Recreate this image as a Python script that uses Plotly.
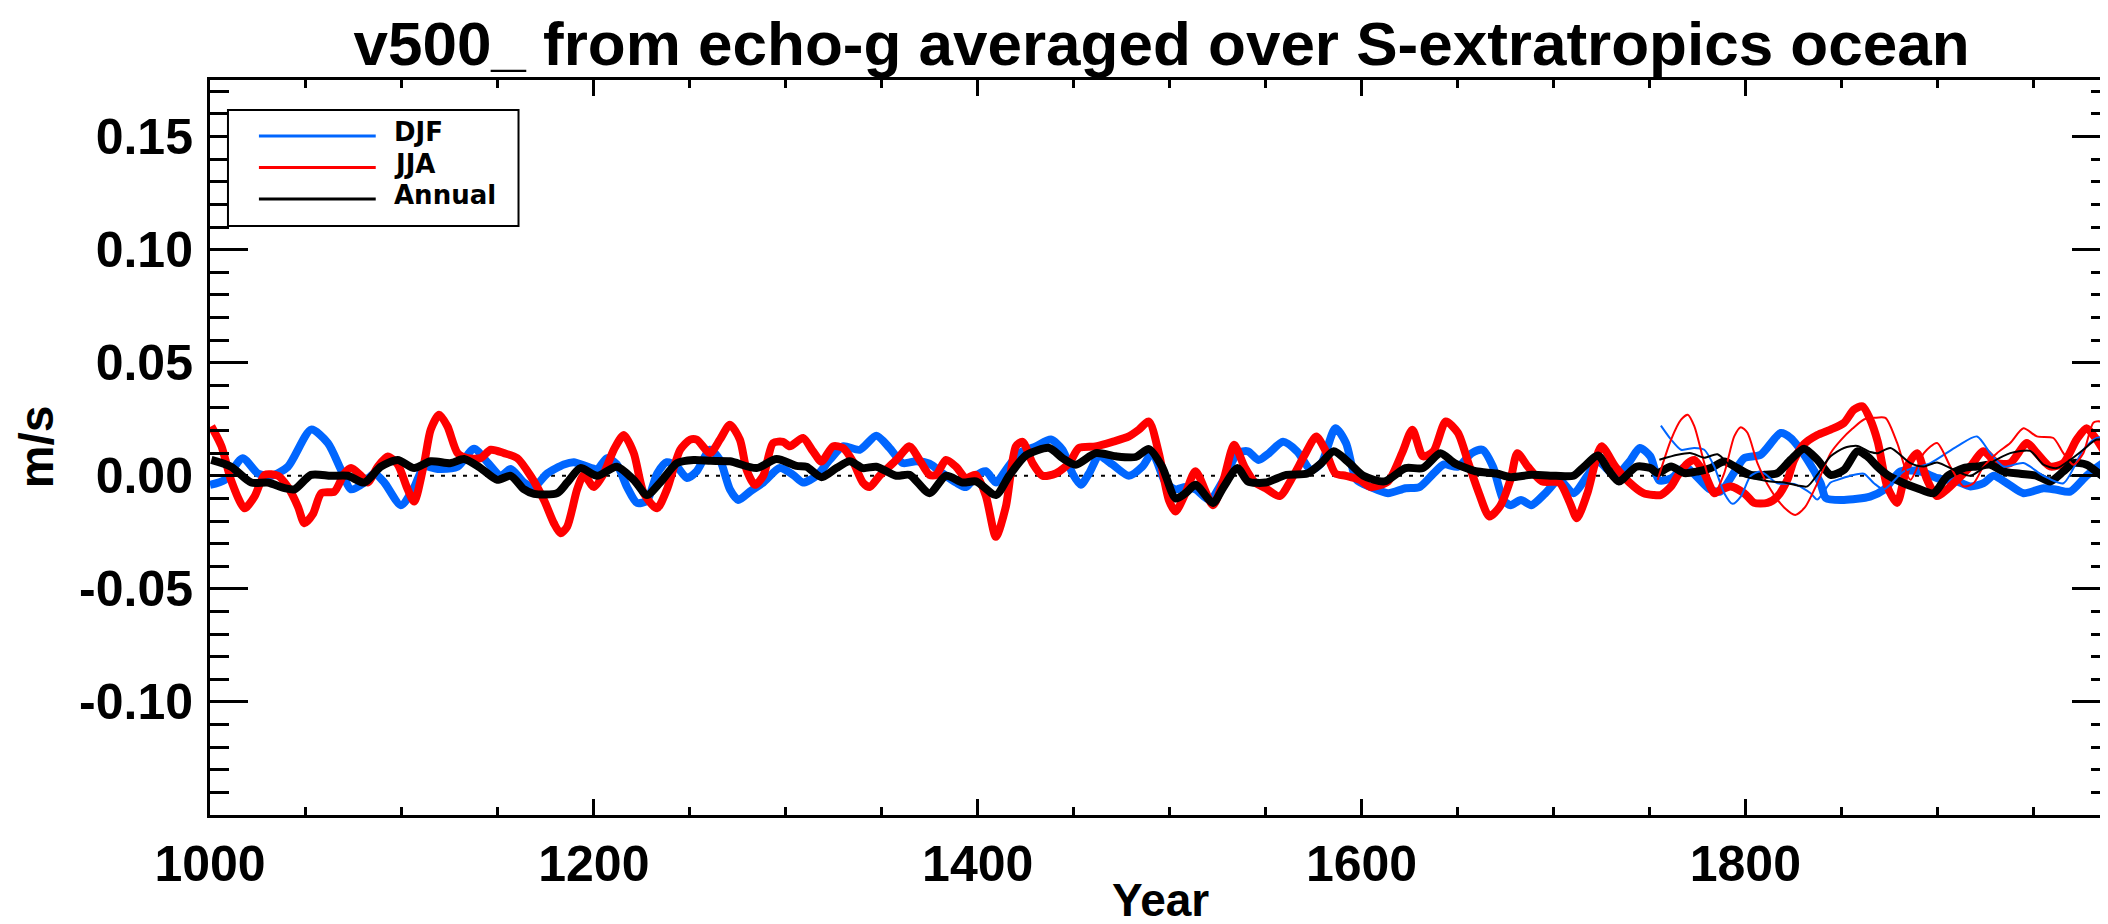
import plotly.graph_objects as go

# ---------------- data ----------------
djf_years = [1000, 1007.7, 1017, 1025, 1032, 1040.6, 1052.7, 1061.4, 1068.3, 1073.5, 1080.4, 1085.6, 1090.8,
             1099.5, 1106.4, 1111.6, 1118.5, 1129, 1137.6, 1144.5, 1151.5, 1156.7, 1163.6, 1168.8, 1175.7,
             1184.4, 1189.6, 1201.7, 1206.9, 1212, 1217.3, 1222.5, 1227.7, 1233, 1238, 1243.3, 1248.5,
             1253.6, 1260.5, 1265.7, 1270.9, 1275.3, 1281.3, 1288.3, 1296.9, 1303.8, 1309, 1316, 1322.9,
             1329.8, 1338.5, 1347.2, 1354.1, 1361, 1368, 1374.9, 1381.8, 1388.7, 1393.9, 1399.1, 1404.3,
             1409.5, 1414.7, 1421.7, 1430.3, 1438.1, 1444.2, 1449.4, 1453.7, 1458, 1463.2, 1470.2, 1478.8,
             1485.8, 1491, 1497.9, 1503.1, 1508.3, 1513.5, 1520.8, 1528.1, 1535.4, 1540.8, 1546.3, 1551.8,
             1559.1, 1566.4, 1573.7, 1579.1, 1586.4, 1591.9, 1597.4, 1604.7, 1613.8, 1622.9, 1630.2, 1637.5,
             1643, 1650.2, 1657.5, 1663, 1668.5, 1673.9, 1677.6, 1683.1, 1688.5, 1695.8, 1703.1, 1710.4,
             1717.7, 1723.2, 1732.3, 1739.6, 1745, 1750.5, 1755, 1761.5, 1768.7, 1774.2, 1781.5, 1787,
             1795, 1799.4, 1808, 1818.4, 1823.6, 1832.3, 1839.2, 1842, 1851.4, 1865, 1872.2, 1880.8,
             1891.2, 1899.9, 1910.3, 1917.2, 1924.1, 1929.3, 1936.3, 1944.9, 1955.3, 1962.2, 1969.2,
             1977.8, 1986.5, 1990]
djf_values = [-0.004, -0.0018, 0.0078, 0.001, 0.0, 0.004, 0.0204, 0.0145, 0.0026, -0.006, -0.003, 0.001, -0.003,
              -0.013, -0.005, 0.004, 0.003, 0.004, 0.012, 0.006, 0.0, 0.003, -0.003, -0.005, 0.001,
              0.005, 0.006, 0.003, 0.0078, 0.005, -0.005, -0.012, -0.011, 0.001, 0.006, 0.004, -0.001,
              0.002, 0.0115, 0.007, -0.006, -0.0107, -0.007, -0.003, 0.0034, 0.0004, -0.003, 0.0, 0.007,
              0.013, 0.0115, 0.0177, 0.0123, 0.0056, 0.0064, 0.0053, 0.001, -0.003, -0.005, 0.0, 0.002,
              -0.003, 0.0026, 0.010, 0.013, 0.016, 0.0115, 0.001, -0.004, 0.001, 0.0086, 0.005, 0.0,
              0.004, 0.010, -0.003, -0.006, -0.005, -0.006, -0.0107, -0.0018, 0.010, 0.0108, 0.007, 0.010,
              0.015, 0.0108, 0.0026, 0.0056, 0.021, 0.0145, -0.0018, -0.005, -0.0077, -0.0055, -0.005, 0.001,
              0.005, 0.004, 0.010, 0.0115, 0.004, -0.0107, -0.013, -0.0107, -0.013, -0.0077, -0.0018, -0.0077,
              0.0, 0.0063, 0.0, 0.0063, 0.0123, 0.0086, -0.002, -0.001, 0.004, 0.0, -0.006, -0.007,
              0.0026, 0.0078, 0.0093, 0.0189, 0.0167, 0.0071, -0.0033, -0.0099, -0.0107, -0.0092, -0.0062, 0.0019,
              0.0019, -0.001, -0.0025, -0.0047, -0.0033, 0.0, -0.0033, -0.0077, -0.0055, -0.0062, -0.007,
              0.0, 0.0056, 0.0063]

jja_years = [1000.7, 1006, 1011, 1018, 1023.3, 1028.5, 1035.4, 1040.6, 1045.8, 1049.2, 1053.6, 1058, 1064.8,
             1070, 1073.5, 1078.7, 1082.2, 1087.4, 1092.6, 1097.8, 1103, 1106.4, 1111.6, 1115, 1119.4,
             1123.7, 1129, 1134.1, 1141, 1146.3, 1153.2, 1160.1, 1167, 1174, 1179.2, 1182.6, 1186.1,
             1191.3, 1194.8, 1200, 1205.2, 1210.4, 1215.6, 1220.8, 1226, 1232.9, 1238.1, 1245, 1250.2,
             1253.6, 1260.5, 1265.7, 1270.9, 1276.1, 1279.6, 1283.9, 1288.3, 1293.4, 1298.6, 1302.1, 1309,
             1314.2, 1318.6, 1324.6, 1329.8, 1335, 1340.2, 1343.7, 1348.9, 1357.6, 1364.5, 1369.7, 1374.9,
             1378.3, 1383.5, 1388.7, 1393.9, 1399.1, 1404.3, 1409.5, 1414.7, 1419.9, 1423.4, 1428.6, 1433.8,
             1440.7, 1447.7, 1452.8, 1461.5, 1470.2, 1478.8, 1484, 1489.2, 1494.4, 1499.6, 1503.1, 1508.3,
             1513.5, 1522.6, 1528.1, 1533.6, 1539, 1544.5, 1550, 1557.3, 1564.5, 1570, 1576.4, 1581,
             1586.4, 1591.9, 1599.2, 1604.7, 1613.8, 1621.1, 1626.5, 1632, 1637.5, 1643.9, 1650.2, 1655.7,
             1661.2, 1666.6, 1672.1, 1677.6, 1681.2, 1686.7, 1694, 1703.1, 1708.6, 1712.2, 1717.7, 1725,
             1732.3, 1739.6, 1746.9, 1752, 1756, 1761.3, 1764.7, 1770, 1773.4, 1778.6, 1783.8, 1787.2,
             1792.4, 1799.4, 1804.6, 1811.5, 1816.7, 1821.9, 1825.4, 1830.6, 1837.5, 1844.4, 1851.4, 1856.5,
             1861, 1865, 1869, 1873.9, 1879.1, 1884.3, 1889.5, 1894.7, 1899.9, 1905.1, 1910.3, 1917.2,
             1924.1, 1931.1, 1938, 1946.7, 1951.9, 1958.8, 1965.7, 1972.6, 1977.8, 1983, 1990]
jja_values = [0.0219, 0.013, -0.002, -0.0144, -0.009, 0.0004, 0.0, -0.005, -0.0136, -0.021, -0.017, -0.0077, -0.007,
              0.001, 0.0034, 0.0, -0.003, 0.004, 0.0085, 0.005, -0.006, -0.0114, 0.0056, 0.0204, 0.027,
              0.0219, 0.010, 0.0078, 0.0078, 0.0115, 0.010, 0.0078, 0.0, -0.0107, -0.021, -0.0254, -0.0225,
              -0.006, 0.0004, -0.005, 0.001, 0.0115, 0.018, 0.010, -0.0077, -0.0144, -0.006, 0.0115, 0.016,
              0.016, 0.010, 0.016, 0.0226, 0.016, 0.0026, -0.004, 0.0, 0.0145, 0.015, 0.013, 0.0167,
              0.0108, 0.0063, 0.013, 0.0123, 0.0063, -0.003, -0.005, 0.0, 0.007, 0.013, 0.007, 0.0004,
              0.0004, 0.007, 0.004, -0.001, 0.0004, -0.009, -0.027, -0.0136, 0.013, 0.015, 0.0056, 0.0,
              0.001, 0.0056, 0.0123, 0.013, 0.015, 0.0174, 0.0204, 0.024, 0.010, -0.0107, -0.0158, -0.0077,
              0.002, -0.013, -0.0018, 0.0137, 0.004, -0.003, -0.0055, -0.009, 0.0, 0.0086, 0.0174, 0.0115,
              0.001, 0.0, -0.0018, -0.005, -0.0025, 0.010, 0.0204, 0.0086, 0.0108, 0.024, 0.019, 0.0056,
              -0.0077, -0.018, -0.0136, -0.0018, 0.010, 0.004, -0.0025, -0.003, -0.012, -0.0188, -0.0077, 0.013,
              0.004, -0.003, -0.0077, -0.0085, -0.0085, -0.0047, 0.0, 0.0056, 0.007, 0.0012, -0.0077, -0.0062,
              -0.0047, -0.0077, -0.012, -0.012, -0.0092, -0.0018, 0.007, 0.0140, 0.018, 0.0204, 0.0234, 0.0292,
              0.0307, 0.025, 0.015, -0.0047, -0.012, 0.0041, 0.010, -0.0018, -0.009, -0.006, -0.0018, 0.0041,
              0.0108, 0.0056, 0.0056, 0.0145, 0.010, 0.0041, 0.0056, 0.016, 0.021, 0.016, 0.0063]

ann_years = [1000.7, 1011, 1021.5, 1030, 1038.9, 1044, 1052.7, 1063, 1071.8, 1080.4, 1089, 1097.8, 1106.4,
             1115, 1125.5, 1132.4, 1141, 1149.7, 1156.7, 1163.6, 1168.8, 1180.9, 1186.1, 1193, 1201.7,
             1212, 1220.8, 1227.7, 1234.6, 1243.3, 1252, 1261, 1270.9, 1284.8, 1295.2, 1305.6, 1310.8,
             1318.6, 1326.4, 1333.3, 1340.2, 1347.2, 1357.6, 1364.5, 1374.9, 1383.5, 1392.2, 1399.1, 1409.5,
             1416.4, 1425.1, 1437.3, 1444.2, 1451.1, 1461.5, 1471.9, 1482.3, 1489.2, 1496.1, 1503.1, 1508.3,
             1513.5, 1522.6, 1528.1, 1535.4, 1540.8, 1550, 1560.9, 1571.8, 1579.1, 1585.5, 1593.7, 1601,
             1612, 1622.9, 1632, 1641.1, 1648.4, 1659.4, 1670.3, 1677.6, 1688.5, 1701.3, 1710.4, 1715.9,
             1723.2, 1728.6, 1734.1, 1743.2, 1750.5, 1754.3, 1761.3, 1768.2, 1775.1, 1782, 1789, 1795.9,
             1802.8, 1809.8, 1816.7, 1823.6, 1830.6, 1837.5, 1844.4, 1851.4, 1858.3, 1863.5, 1868.7, 1873.9,
             1882.6, 1889.5, 1898.1, 1905.1, 1913.7, 1920.7, 1927.6, 1934.5, 1943.2, 1951.9, 1958.8, 1965.7,
             1970.9, 1977.8, 1986.5, 1990]
ann_values = [0.007, 0.004, -0.003, -0.003, -0.0055, -0.006, 0.0004, 0.0, 0.0, -0.003, 0.004, 0.007, 0.0034,
              0.0064, 0.0056, 0.0074, 0.0034, -0.0018, 0.0, -0.006, -0.008, -0.0077, -0.003, 0.0034, 0.0,
              0.004, -0.0018, -0.0085, -0.003, 0.0056, 0.007, 0.0066, 0.0064, 0.0034, 0.0074, 0.0044, 0.004,
              -0.0006, 0.0034, 0.0064, 0.0034, 0.004, 0.0, 0.0004, -0.0077, 0.0, -0.003, -0.0025, -0.0085,
              0.0, 0.009, 0.0123, 0.0078, 0.0049, 0.010, 0.0086, 0.0083, 0.0118, 0.004, -0.010, -0.0077,
              -0.004, -0.012, -0.005, 0.0034, -0.0025, -0.003, 0.0004, 0.001, 0.0056, 0.0108, 0.0056, 0.0,
              -0.0025, 0.0034, 0.0034, 0.010, 0.0056, 0.002, 0.001, -0.0006, 0.0004, 0.0, 0.0, 0.004,
              0.009, 0.0026, -0.0025, 0.004, 0.0034, 0.0012, 0.0041, 0.0012, 0.0019, 0.0034, 0.0063, 0.0034,
              0.0004, 0.0004, 0.0012, 0.0071, 0.0120, 0.0071, 0.0004, 0.0026, 0.0108, 0.0086, 0.0041, 0.0004,
              -0.0033, -0.0055, -0.0077, -0.0003, 0.0034, 0.0041, 0.0049, 0.0019, 0.0009, 0.0, -0.0025, 0.0019,
              0.0056, 0.0049, -0.0003, -0.001]

# second (short, thin) set of curves
djf2_years = [1756, 1761.3, 1766.5, 1773.4, 1778.6, 1783.8, 1789, 1793.3, 1797.6, 1802.8, 1808, 1816.7,
              1825.4, 1834, 1837.5, 1844.4, 1848, 1854.8, 1861.7, 1867, 1872.2, 1882.6, 1896.4, 1910.3,
              1920.7, 1927.6, 1934.5, 1944.9, 1955.3, 1965.7, 1976.1, 1983, 1990]
djf2_values = [0.0222, 0.016, 0.0115, 0.0123, 0.0115, 0.0041, -0.0077, -0.0124, -0.0092, 0.0, 0.0019, -0.0033,
               -0.0036, -0.0077, -0.0105, -0.003, -0.0018, 0.0, 0.0009, -0.0033, -0.006, 0.0019, 0.0056, 0.013,
               0.0174, 0.010, 0.0041, 0.0056, 0.0, -0.0033, 0.0115, 0.0167, 0.0174]

jja2_years = [1754.3, 1761.3, 1766.5, 1770, 1773.4, 1778.6, 1783.8, 1789, 1794.2, 1797.6, 1801.1, 1806.3,
              1813.2, 1820.2, 1826, 1831, 1837.5, 1844.4, 1850, 1856, 1862, 1867, 1873, 1879.1, 1886, 1893,
              1899.9, 1906.8, 1913.7, 1918.9, 1924.1, 1931.1, 1938, 1944.9, 1951.9, 1960.5, 1965.7, 1970.9,
              1976.1, 1981.3, 1984.8, 1990]
jja2_values = [-0.0018, 0.016, 0.0248, 0.027, 0.0219, 0.0056, -0.0077, 0.0012, 0.0174, 0.0215, 0.019, 0.0056,
               -0.0062, -0.0140, -0.0173, -0.014, -0.0033, 0.010, 0.016, 0.021, 0.025, 0.0256, 0.0256, 0.0145,
               -0.0018, 0.010, 0.0145, 0.0041, -0.0047, -0.0033, 0.0041, 0.010, 0.0145, 0.021, 0.0174, 0.0167,
               0.010, 0.0049, 0.010, 0.0234, 0.024, 0.021]

ann2_years = [1755.2, 1764.7, 1771.7, 1778.6, 1785.5, 1792.4, 1799.4, 1806.3, 1813.2, 1820.2, 1827.1, 1832.3,
              1837.5, 1844.4, 1851.4, 1858.3, 1865.2, 1869, 1875.6, 1886, 1893, 1899.9, 1910.3, 1917.2,
              1927.6, 1938, 1948.4, 1955.3, 1962.2, 1969.2, 1976.1, 1983, 1990]
ann2_values = [0.0071, 0.0093, 0.010, 0.0080, 0.0095, 0.0041, -0.0003, -0.0015, -0.0025, -0.003, -0.0043, -0.0047,
               0.0005, 0.0086, 0.0123, 0.0132, 0.0105, 0.010, 0.0123, 0.0056, 0.0041, 0.0059, 0.0019, 0.0,
               0.0056, 0.010, 0.011, 0.0049, 0.0034, 0.007, 0.0115, 0.016, 0.0152]

series_names = ["DJF", "JJA", "Annual"]
series_colors = ["#0066ff", "#ff0000", "#000000"]

y_tickvals = [-0.10, -0.05, 0.0, 0.05, 0.10, 0.15]
y_ticktext = ["-0.10", "-0.05", "0.00", "0.05", "0.10", "0.15"]
x_tickvals = [1000, 1200, 1400, 1600, 1800]

title_text = "v500_ from echo-g averaged over S-extratropics ocean"
x_title = "Year"
y_title = "m/s"

# ---------------- figure ----------------
FONT = "Liberation Sans"
W, H = 2108, 924
ML, MR, MT, MB = 202, 3, 72, 117
pw = W - ML - MR
ph = H - MT - MB


def px_x(p):  # pixel column -> paper x
    return (p - ML) / pw


def px_y(p):  # pixel row -> paper y
    return (H - MB - p) / ph


fig = go.Figure()

thick = [(djf_years, djf_values), (jja_years, jja_values), (ann_years, ann_values)]
thin = [(djf2_years, djf2_values), (jja2_years, jja2_values), (ann2_years, ann2_values)]

for (xs, ys), name, col in zip(thick, series_names, series_colors):
    fig.add_trace(go.Scatter(x=xs, y=ys, mode="lines", name=name, showlegend=False,
                             line=dict(color=col, width=8, shape="spline", smoothing=0.7)))
for (xs, ys), name, col in zip(thin, series_names, series_colors):
    fig.add_trace(go.Scatter(x=xs, y=ys, mode="lines", name=name + " (2)", showlegend=False,
                             line=dict(color=col, width=2, shape="spline", smoothing=0.7)))

fig.add_hline(y=0, line=dict(color="black", width=2, dash="4px,7px"), layer="below")

# legend box (framed box with long line samples, as in the original)
fig.add_shape(type="rect", xref="paper", yref="paper",
              x0=px_x(220), x1=px_x(511), y0=px_y(218), y1=px_y(102),
              line=dict(color="black", width=2), fillcolor="white", layer="above")
annotations = []
for i, (name, col) in enumerate(zip(series_names, series_colors)):
    yrow = 128 + i * 31.5
    fig.add_shape(type="line", xref="paper", yref="paper",
                  x0=px_x(251), x1=px_x(368), y0=px_y(yrow), y1=px_y(yrow),
                  line=dict(color=col, width=3), layer="above")
    annotations.append(dict(text=name, xref="paper", yref="paper", x=px_x(386), y=px_y(yrow - 4),
                            xanchor="left", yanchor="middle", showarrow=False,
                            borderpad=0, borderwidth=0,
                            font=dict(family="DejaVu Sans", size=26, color="black", weight="bold")))

annotations += [
    dict(text=x_title, xref="paper", yref="paper", x=0.5, y=px_y(892),
         xanchor="center", yanchor="middle", showarrow=False,
         font=dict(family=FONT, size=46, color="black", weight="bold")),
    dict(text=y_title, xref="paper", yref="paper", x=px_x(29), y=px_y(439),
         xanchor="center", yanchor="middle", textangle=-90, showarrow=False,
         font=dict(family=FONT, size=48, color="black", weight="bold")),
]

axis_common = dict(showline=True, linewidth=3, linecolor="black", mirror="ticks",
                   ticks="inside", tickwidth=3, tickcolor="black",
                   showgrid=False, zeroline=False,
                   tickfont=dict(family=FONT, size=50, color="black", weight="bold"))

fig.update_layout(
    width=W, height=H,
    margin=dict(l=ML, r=MR, t=MT, b=MB, pad=0),
    paper_bgcolor="white", plot_bgcolor="white",
    showlegend=False,
    title=dict(text=title_text, x=(ML + pw / 2) / W, xanchor="center",
               yref="container", y=1 - 35 / H, yanchor="middle",
               font=dict(family=FONT, size=62, color="black", weight="bold")),
    xaxis=dict(range=[1000, 1990], tickmode="array", tickvals=x_tickvals,
               ticklen=16, ticklabelstandoff=3,
               minor=dict(tickmode="linear", tick0=1000, dtick=50, ticklen=8, tickwidth=3,
                          tickcolor="black", ticks="inside"),
               **axis_common),
    yaxis=dict(range=[-0.15, 0.175], tickmode="array", tickvals=y_tickvals, ticktext=y_ticktext,
               ticklen=38, ticklabelstandoff=4,
               minor=dict(tickmode="linear", tick0=0, dtick=0.01, ticklen=19, tickwidth=3,
                          tickcolor="black", ticks="inside"),
               **axis_common),
    annotations=annotations,
)

fig.write_html("out.html")
